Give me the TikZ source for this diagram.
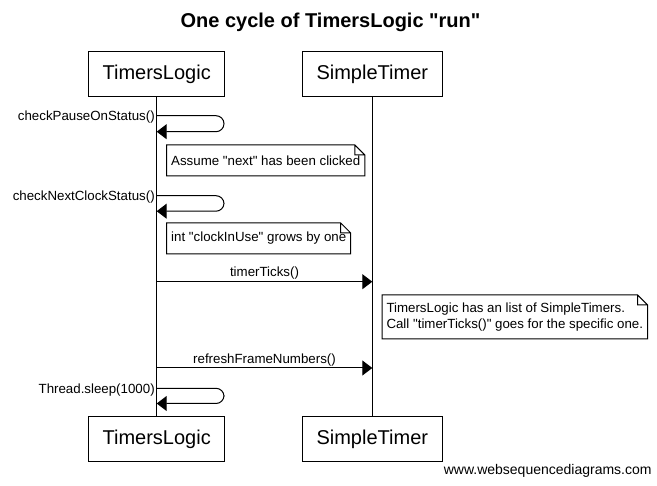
\documentclass[tikz,border=0pt]{standalone}
\usepackage{fontspec}
\setmainfont{Liberation Sans}[Ligatures=TeXOff]
\usetikzlibrary{arrows.meta, positioning}
\tikzset{
  every picture/.style={line width=1pt, font=\fontsize{13.3}{16}\selectfont},
  actor/.style={draw, minimum height=45pt, inner xsep=14pt, font=\fontsize{20}{24}\selectfont},
  note/.style={anchor=north west, inner xsep=4pt, minimum height=#1, align=left},
  note/.default=30pt,
  msg/.style={-{Triangle[length=10pt, width=15pt]}},
  selfmsg/.style={msg, rounded corners=8pt},
  msgtext/.style={inner sep=1.5pt},
  title/.style={font=\bfseries\fontsize{20}{24}\selectfont},
  credit/.style={font=\fontsize{14}{17}\selectfont},
}

\begin{document}
\begin{tikzpicture}[x=1pt, y=-1pt]
  \useasboundingbox (0,0) rectangle (657,486);
  \node[title, anchor=base] (ttl) at (330.5,28) {One cycle of TimersLogic "run"};
  \node[actor] (tl) at (156.7,74.2) {TimersLogic};
  \node[actor] (st) at (372.3,74.2) {SimpleTimer};
  \node[actor] (tlb) at (156.7,439.5) {TimersLogic};
  \node[actor] (stb) at (372.3,439.5) {SimpleTimer};
  \draw (tl) -- (tlb);
  \draw (st) -- (stb);
  \coordinate (p1) at (tl |- 0,115.7);
  \coordinate (q1) at (tl |- 0,131.7);
  \coordinate (p2) at (tl |- 0,195.7);
  \coordinate (q2) at (tl |- 0,211.2);
  \coordinate (p5) at (tl |- 0,388.3);
  \coordinate (q5) at (tl |- 0,403.5);
  \foreach \a/\b in {p1/q1, p2/q2, p5/q5} \draw[selfmsg] (\a) -- ++(67.3,0) |- (\b);
  \node[msgtext, anchor=east, yshift=-1.8pt] (l1) at (p1) {checkPauseOnStatus()};
  \node[msgtext, anchor=east, yshift=-1.8pt] (l2) at (p2) {checkNextClockStatus()};
  \node[msgtext, anchor=east, yshift=-1.8pt] (l5) at (p5) {Thread.sleep(1000)};
  \coordinate (p3) at (tl |- 0,281.7);
  \coordinate (q3) at (st |- 0,281.7);
  \coordinate (p4) at (tl |- 0,368);
  \coordinate (q4) at (st |- 0,368);
  \draw[msg] (p3) -- node[msgtext, above] (l3) {timerTicks()} (q3);
  \draw[msg] (p4) -- node[msgtext, above] (l4) {refreshFrameNumbers()} (q4);
  \node[note] (n1) at (166.7,145) {Assume "next" has been clicked};
  \node[note] (n2) at (166.7,223) {int "clockInUse" grows by one};
  \node[note=43pt] (n3) at (382,295) {TimersLogic has an list of SimpleTimers.\\Call "timerTicks()" goes for the specific one.};
  \foreach \n in {n1, n2, n3}
    \draw (\n.north west) -- ([xshift=-10pt]\n.north east) -- ([yshift=-10pt]\n.north east) -- (\n.south east) -- (\n.south west) -- cycle
      ([xshift=-10pt]\n.north east) |- ([yshift=-10pt]\n.north east);
  \node[credit, anchor=base west] (www) at (440,475) {www.websequencediagrams.com};
\end{tikzpicture}
\end{document}
